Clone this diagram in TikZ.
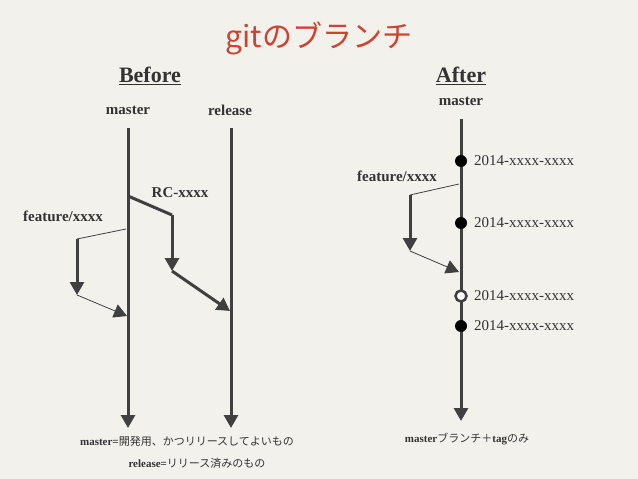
\documentclass[tikz,border=0pt]{standalone}
\usepackage{fontspec}
\setmainfont{Liberation Serif}
\newfontfamily\cjk{Noto Sans CJK JP}
\usetikzlibrary{arrows.meta}
\definecolor{bg}{HTML}{F3F1EC}
\definecolor{ln}{HTML}{404040}
\definecolor{tx}{HTML}{333333}
\definecolor{ttl}{HTML}{D0412E}
\begin{document}
\begin{tikzpicture}[x=1pt,y=-1pt,
  tip/.style={-{Triangle[width=14pt 0 0,length=13pt 0 0]}},
  trunk/.style={line width=3pt,draw=ln,tip},
  thick branch/.style={line width=3pt,draw=ln},
  thin link/.style={line width=0.8pt,draw=ln},
  thin arrow/.style={line width=0.8pt,draw=ln,tip},
  lbl/.style={text=tx,font=\fontsize{15}{17}\selectfont\bfseries,inner sep=0pt},
  date/.style={text=tx,font=\fontsize{15}{17}\selectfont,inner sep=0pt,anchor=west},
  head/.style={text=tx,font=\fontsize{22}{24}\selectfont\bfseries,inner sep=0pt},
  note/.style={text=tx,font=\fontsize{11}{13}\selectfont\bfseries,inner sep=0pt},
  commit/.style={circle,fill=black,minimum size=12pt,inner sep=0pt},
  tagc/.style={circle,fill=white,draw=ln,line width=2.5pt,minimum size=11pt,inner sep=0pt}]
\fill[bg] (0,0) rectangle (638,479);
\useasboundingbox (0,0) rectangle (638,479);
% title
\node[text=ttl,font=\cjk\fontsize{30}{34}\selectfont,inner sep=0pt] (title) at (319,38) {gitのブランチ};
\node[head] (before) at (150,76) {\underline{Before}};
\node[head] (after) at (461,76) {\underline{After}};
% Before
\node[lbl] (bm) at (128,110) {master};
\node[lbl] (br) at (230,110) {release};
\coordinate (bmtop) at (128,128);
\coordinate (bmend) at (128,428);
\coordinate (brtop) at (231,128);
\coordinate (brend) at (231,428);
\draw[trunk] (bmtop) -- (bmend);
\draw[trunk] (brtop) -- (brend);
% RC branch
\node[lbl] (rc) at (180,193) {RC-xxxx};
\coordinate (rc0) at (128,196);
\coordinate (rc1) at (172,215);
\coordinate (rc2) at (172,271);
\coordinate (rc3) at (230,311);
\draw[thick branch,line join=miter] (rc0) -- (rc1);
\draw[trunk] (rc1) -- (rc2);
\draw[trunk] (rc2) -- (rc3);
% feature branch (before)
\node[lbl] (bf) at (63,216) {feature/xxxx};
\coordinate (bf0) at (126,229);
\coordinate (bf1) at (77,239);
\coordinate (bf2) at (77,295);
\coordinate (bf3) at (127,316);
\draw[thin link] (bf0) -- (bf1);
\draw[trunk] (bf1) -- (bf2);
\draw[thin arrow] (bf2) -- (bf3);
% notes
\node[note] (n1) at (187,441) {master=\cjk\mdseries 開発用、かつリリースしてよいもの};
\node[note] (n2) at (197,463) {release=\cjk\mdseries リリース済みのもの};
% After
\node[lbl] (am) at (461,101) {master};
\coordinate (amtop) at (461,119);
\coordinate (amend) at (461,421);
\draw[trunk] (amtop) -- (amend);
\node[commit] (c1) at (461,161) {};
\node[commit] (c2) at (461,223) {};
\node[tagc] (c3) at (461,296) {};
\node[commit] (c4) at (461,326) {};
\node[date] (d1) at (474,161) {2014-xxxx-xxxx};
\node[date] (d2) at (474,223) {2014-xxxx-xxxx};
\node[date] (d3) at (474,296) {2014-xxxx-xxxx};
\node[date] (d4) at (474,326) {2014-xxxx-xxxx};
\node[lbl] (af) at (397,176) {feature/xxxx};
\coordinate (af0) at (459,184);
\coordinate (af1) at (410,195);
\coordinate (af2) at (410,251);
\coordinate (af3) at (459,272);
\draw[thin link] (af0) -- (af1);
\draw[trunk] (af1) -- (af2);
\draw[thin arrow] (af2) -- (af3);
\node[note] (n3) at (467,439) {master\cjk\mdseries ブランチ＋\rmfamily\bfseries tag\cjk\mdseries のみ};
\end{tikzpicture}
\end{document}
